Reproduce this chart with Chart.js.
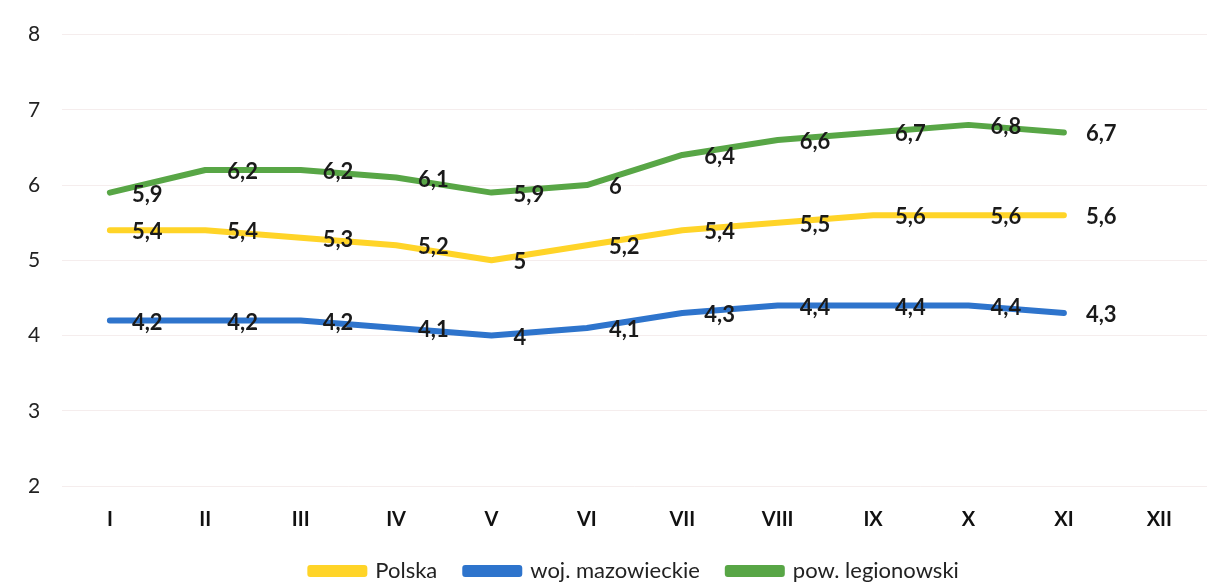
<html><head>
<meta charset="UTF-8">
<title>Chart</title>
<style>
  body { margin: 0; padding: 0; background: #fff; overflow: hidden; }
  .wrap { width: 1224px; height: 592px; position: relative; }
</style>
<script src="https://cdn.jsdelivr.net/npm/chart.js"></script>
</head>
<body>
<div class="wrap"><canvas id="chart"></canvas></div>
<script>
  // months
  var months = ['I', 'II', 'III', 'IV', 'V', 'VI', 'VII', 'VIII', 'IX', 'X', 'XI', 'XII'];
  var polska = [5.4, 5.4, 5.3, 5.2, 5, 5.2, 5.4, 5.5, 5.6, 5.6, 5.6, null];
  var mazowieckie = [4.2, 4.2, 4.2, 4.1, 4, 4.1, 4.3, 4.4, 4.4, 4.4, 4.3, null];
  var legionowski = [5.9, 6.2, 6.2, 6.1, 5.9, 6, 6.4, 6.6, 6.7, 6.8, 6.7, null];
  var yMin = 2, yMax = 8;

  var fontName = 'Lato, "Open Sans", sans-serif';

  // value labels to the right of each point
  var valueLabels = {
    id: 'valueLabels',
    afterDatasetsDraw: function(chart) {
      var ctx = chart.ctx;
      ctx.save();
      ctx.font = 'bold 22px ' + fontName;
      ctx.fillStyle = '#1a1a1a';
      ctx.textAlign = 'left';
      ctx.textBaseline = 'middle';
      chart.data.datasets.forEach(function(ds, i) {
        var meta = chart.getDatasetMeta(i);
        meta.data.forEach(function(pt, j) {
          var v = ds.data[j];
          if (v === null) return;
          ctx.fillText(String(v).replace('.', ','), pt.x + 22, pt.y + 2);
        });
      });
      ctx.restore();
    }
  };

  var ctx = document.getElementById('chart').getContext('2d');
  var chart = new Chart(ctx, {
    type: 'line',
    data: {
      labels: months,
      datasets: [{
        label: 'Polska',
        data: polska,
        borderColor: 'rgb(255, 212, 40)',
        backgroundColor: 'rgb(255, 212, 40)'
      }, {
        label: 'woj. mazowieckie',
        data: mazowieckie,
        borderColor: 'rgb(46, 116, 204)',
        backgroundColor: 'rgb(46, 116, 204)'
      }, {
        label: 'pow. legionowski',
        data: legionowski,
        borderColor: 'rgb(88, 166, 70)',
        backgroundColor: 'rgb(88, 166, 70)'
      }]
    },
    options: {
      responsive: true,
      maintainAspectRatio: false,
      animation: false,
      elements: {
        line: { borderWidth: 6, tension: 0, borderCapStyle: 'round', borderJoinStyle: 'round' },
        point: { radius: 0, hoverRadius: 0 }
      },
      layout: { padding: { left: 6, right: 17, top: 22, bottom: 0 } },
      scales: {
        x: {
          offset: true,
          grid: { display: false },
          border: { display: false },
          ticks: { color: '#111', padding: 14, font: { family: fontName, size: 20, weight: 'bold' } },
          afterFit: function(scale) { scale.height = 46; }
        },
        y: {
          min: yMin,
          max: yMax,
          border: { display: false },
          grid: { color: 'rgba(238, 225, 225, 0.6)', lineWidth: 1, drawTicks: false },
          ticks: { stepSize: 1, color: '#222', padding: 22, font: { family: fontName, size: 21 } }
        }
      },
      plugins: {
        tooltip: { enabled: false },
        legend: {
          position: 'bottom',
          fullSize: false,
          labels: {
            boxWidth: 54,
            boxHeight: 6,
            padding: 28,
            color: '#222',
            font: { family: fontName, size: 22 }
          }
        }
      }
    },
    plugins: [valueLabels]
  });
</script>
</body>
</html>
